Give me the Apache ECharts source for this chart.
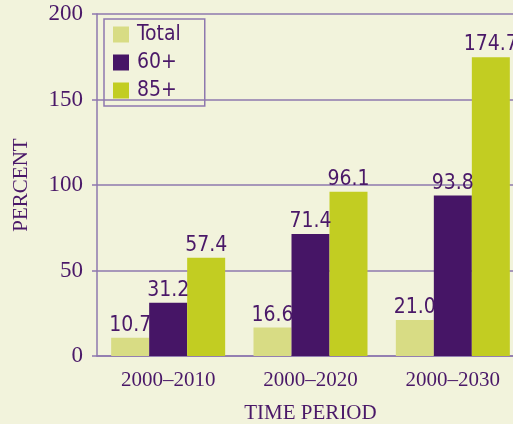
<!DOCTYPE html>
<html><head><meta charset="utf-8">
<script src="https://cdn.jsdelivr.net/npm/echarts@6/dist/echarts.min.js"></script>
<style>html,body{margin:0;padding:0;background:#f2f3dc;}#c{width:513px;height:424px;}</style>
</head><body><div id="c"></div>
<script>
const categories = ['2000–2010', '2000–2020', '2000–2030'];
const totalValues = [10.7, 16.6, 21.0];
const age60Values = [31.2, 71.4, 93.8];
const age85Values = [57.4, 96.1, 174.7];
const seriesNames = ['Total', '60+', '85+'];
const yTicks = [0, 50, 100, 150, 200];

const purple = '#4a1868';
const lineCol = '#8e78ae';
const labelFont = "'Liberation Sans Narrow', 'DejaVu Sans Condensed', sans-serif";
const serif = "'Liberation Serif', serif";

function barSeries(name, data, color) {
  return {
    name: name, type: 'bar', data: data, barWidth: 38, barGap: '0%',
    itemStyle: { color: color },
    label: { show: true, position: 'top', distance: 2, color: purple, fontFamily: labelFont, fontSize: 21,
      formatter: p => p.value.toFixed(1) }
  };
}

const chart = echarts.init(document.getElementById('c'), null, { renderer: 'canvas' });
chart.setOption({
  backgroundColor: '#f2f3dc',
  animation: false,
  grid: { left: 97, right: -11, top: 14, bottom: 68, containLabel: false, outerBoundsMode: 'none' },
  legend: {
    orient: 'vertical', left: 104, top: 19,
    data: seriesNames,
    icon: 'rect', itemWidth: 16, itemHeight: 16, itemGap: 7,
    borderColor: lineCol, borderWidth: 1.5, padding: [5, 24, 5, 9],
    textStyle: { color: purple, fontFamily: labelFont, fontSize: 21, padding: [0, 0, 0, 3] }
  },
  xAxis: {
    type: 'category', data: categories,
    name: 'TIME PERIOD', nameLocation: 'middle', nameGap: 47,
    nameTextStyle: { color: purple, fontFamily: serif, fontSize: 21 },
    axisLine: { lineStyle: { color: lineCol, width: 1.5 } },
    axisTick: { show: false },
    axisLabel: { color: purple, fontFamily: serif, fontSize: 21, margin: 14 }
  },
  yAxis: {
    type: 'value', min: yTicks[0], max: yTicks[yTicks.length - 1], interval: 50,
    name: 'PERCENT', nameLocation: 'middle', nameGap: 65, nameRotate: 90,
    nameTextStyle: { color: purple, fontFamily: serif, fontSize: 21 },
    axisLine: { show: true, lineStyle: { color: lineCol, width: 1.5 } },
    axisTick: { show: true, length: 5, lineStyle: { color: lineCol, width: 1.5 } },
    axisLabel: { color: purple, fontFamily: serif, fontSize: 23, margin: 14 },
    splitLine: { show: true, lineStyle: { color: lineCol, width: 1.5 } }
  },
  series: [
    barSeries(seriesNames[0], totalValues, '#d8dc84'),
    barSeries(seriesNames[1], age60Values, '#461566'),
    barSeries(seriesNames[2], age85Values, '#c2cd22')
  ]
});
</script></body></html>
